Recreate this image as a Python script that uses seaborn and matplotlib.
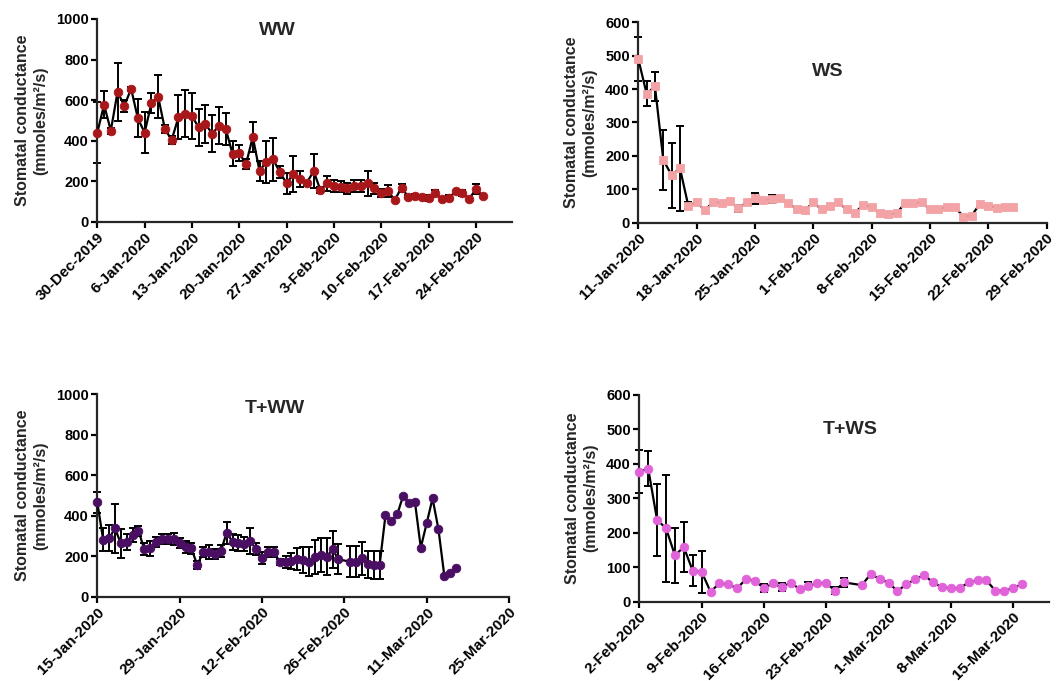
import pandas as pd
import matplotlib
matplotlib.use("Agg")
import matplotlib.pyplot as plt
import matplotlib.ticker as mticker
import matplotlib.transforms as mtransforms
import seaborn as sns

# ---------------- data (mean +/- SD of stomatal conductance) ----------------
# WW: daily readings from 30-Dec-2019
ww_start = "2019-12-30"
ww_mean = [439, 577, 449, 641, 571, 656, 510, 439, 584, 617,
           457, 403, 515, 533, 521, 465, 482, 434, 474, 457,
           336, 337, 285, 418, 250, 296, 308, 245, 189, 235,
           210, 192, 250, 156, 189, 178, 173, 164, 178, 178,
           189, 164, 143, 151, 107, 168, 123, 127, 123, 118,
           143, 110, 115, 151, 143, 112, 160, 128]
ww_err = [150, 66, 15, 143, 30, 10, 94, 100, 50, 107,
          20, 20, 108, 115, 112, 92, 95, 91, 93, 79,
          60, 40, 25, 75, 50, 104, 105, 30, 53, 89,
          40, 10, 84, 15, 38, 30, 28, 25, 30, 30,
          61, 25, 20, 30, 0, 20, 8, 10, 0, 15,
          15, 0, 15, 0, 15, 0, 25, 0]

# WS: daily readings from 11-Jan-2020
ws_start = "2020-01-11"
ws_mean = [490, 386, 408, 188, 142, 163, 51, 61, 38, 62,
           60, 65, 43, 61, 73, 69, 70, 74, 60, 40,
           37, 61, 40, 50, 61, 40, 30, 53, 48, 28,
           26, 28, 58, 58, 61, 40, 40, 48, 48, 18,
           21, 56, 51, 45, 48, 48]
ws_err = [65, 37, 43, 90, 98, 128, 10, 0, 0, 0,
          0, 0, 10, 0, 16, 0, 12, 0, 0, 0,
          0, 0, 0, 0, 0, 0, 0, 0, 0, 0,
          0, 0, 0, 0, 0, 0, 0, 0, 0, 0,
          0, 0, 0, 0, 0, 0]

# T+WW: daily readings from 15-Jan-2020 (no reading on day 42)
tww_start = "2020-01-15"
tww_missing = [42]
tww_mean = [465, 281, 288, 337, 263, 271, 304, 324, 234, 238,
            271, 285, 285, 285, 263, 247, 238, 156, 219, 222,
            209, 225, 316, 271, 263, 258, 275, 235, 192, 222,
            222, 173, 173, 178, 186, 181, 173, 197, 206, 197,
            234, 184, 173, 173, 189, 160, 156, 156, 403, 373,
            406, 498, 464, 469, 242, 362, 485, 334, 104, 118,
            143]
tww_err = [50, 56, 65, 120, 70, 40, 35, 25, 30, 35,
           25, 25, 25, 30, 25, 30, 25, 20, 25, 35,
           25, 30, 54, 40, 40, 35, 62, 30, 30, 25,
           25, 15, 30, 40, 55, 66, 70, 84, 84, 92,
           91, 74, 77, 77, 80, 67, 69, 71, 0, 0,
           0, 0, 0, 0, 0, 0, 0, 0, 0, 0,
           0]

# T+WS: daily readings from 2-Feb-2020 (no reading on day 24)
tws_start = "2020-02-02"
tws_missing = [24]
tws_mean = [377, 386, 237, 213, 135, 158, 90, 87, 29, 53,
            50, 39, 66, 61, 39, 53, 42, 55, 37, 46,
            53, 54, 32, 56, 48, 80, 66, 55, 31, 50,
            65, 77, 56, 42, 39, 39, 56, 62, 62, 32,
            32, 39, 51]
tws_err = [63, 51, 104, 155, 80, 72, 45, 61, 0, 0,
           0, 0, 0, 0, 12, 0, 12, 0, 0, 10,
           0, 0, 10, 12, 0, 0, 0, 0, 0, 0,
           0, 0, 0, 0, 0, 0, 0, 0, 0, 0,
           0, 0, 0]


def daily_dates(start, n, missing=()):
    days = [d for d in range(n + len(missing)) if d not in missing]
    return pd.Timestamp(start) + pd.to_timedelta(days, unit="D")


panels = [
    dict(name="WW", dates=daily_dates(ww_start, len(ww_mean)), mean=ww_mean, err=ww_err,
         color="#a8171a", marker="o", ms=6.2, ymax=1000, ystep=200,
         tick_start=ww_start, tick_step=7, n_ticks=9, span=61.3,
         box=(97.3, 19.0, 511.7, 221.7), title_xy=(0.435, 0.945)),
    dict(name="WS", dates=daily_dates(ws_start, len(ws_mean)), mean=ws_mean, err=ws_err,
         color="#f3a3a5", marker="s", ms=6.0, ymax=600, ystep=100,
         tick_start=ws_start, tick_step=7, n_ticks=8, span=49.0,
         box=(638.3, 22.3, 1046.5, 222.7), title_xy=(0.465, 0.752)),
    dict(name="T+WW", dates=daily_dates(tww_start, len(tww_mean), tww_missing), mean=tww_mean,
         err=tww_err, color="#4a0f62", marker="o", ms=6.2, ymax=1000, ystep=200,
         tick_start=tww_start, tick_step=14, n_ticks=6, span=70.0,
         box=(97.3, 394.0, 509.0, 596.7), title_xy=(0.432, 0.926)),
    dict(name="T+WS", dates=daily_dates(tws_start, len(tws_mean), tws_missing), mean=tws_mean,
         err=tws_err, color="#e163d9", marker="o", ms=6.2, ymax=600, ystep=100,
         tick_start=tws_start, tick_step=7, n_ticks=7, span=46.0,
         box=(639.3, 394.8, 1048.7, 601.7), title_xy=(0.515, 0.83)),
]

sns.set_style("ticks")
plt.rcParams["font.family"] = ["Liberation Sans", "DejaVu Sans"]
plt.rcParams["font.weight"] = "bold"
plt.rcParams["axes.linewidth"] = 1.6

W, H = 1056, 681
fig = plt.figure(figsize=(W / 100, H / 100), dpi=100)

# rotated date labels end just past their tick
label_shift = mtransforms.ScaledTranslation(-5 / 100, 0, fig.dpi_scale_trans)


def fmt_date(d):
    return f"{d.day}-{d.strftime('%b-%Y')}"


for p in panels:
    l, t, r, b = p["box"]
    ax = fig.add_axes([l / W, 1 - b / H, (r - l) / W, (b - t) / H])
    df = pd.DataFrame({"date": p["dates"], "value": p["mean"], "sd": p["err"]})

    # error bars (only where a spread was recorded)
    bars = df[df["sd"] > 0]
    ax.errorbar(bars["date"], bars["value"], yerr=bars["sd"], fmt="none",
                ecolor="black", elinewidth=1.4, capsize=3.2, capthick=1.4,
                zorder=2, clip_on=False)

    sns.lineplot(data=df, x="date", y="value", ax=ax, color="black", linewidth=1.6,
                 marker=p["marker"], markersize=p["ms"], markerfacecolor=p["color"],
                 markeredgecolor=p["color"], markeredgewidth=0.6, zorder=3,
                 clip_on=False)

    start = pd.Timestamp(p["tick_start"])
    ticks = [start + pd.Timedelta(days=p["tick_step"] * i) for i in range(p["n_ticks"])]
    ax.set_xlim(start, start + pd.Timedelta(days=p["span"]))
    ax.xaxis.set_major_locator(mticker.FixedLocator(matplotlib.dates.date2num(ticks)))
    ax.set_xticklabels([fmt_date(d) for d in ticks], rotation=45, ha="right",
                       rotation_mode="anchor", fontsize=11, fontweight="bold")
    for lab in ax.get_xticklabels():
        lab.set_transform(lab.get_transform() + label_shift)
    ax.set_ylim(0, p["ymax"])
    ax.yaxis.set_major_locator(mticker.MultipleLocator(p["ystep"]))
    ax.tick_params(axis="both", direction="out", length=4, width=1.6, pad=2,
                   colors="black")
    ax.tick_params(axis="y", labelsize=10.5)
    for lab in ax.get_yticklabels():
        lab.set_fontweight("bold")

    ax.set_xlabel("")
    ax.set_ylabel("Stomatal conductance\n(mmoles/m²/s)", fontsize=11.5,
                  fontweight="bold", labelpad=6, linespacing=1.25)
    sns.despine(ax=ax)
    ax.spines["left"].set_linewidth(1.6)
    ax.spines["bottom"].set_linewidth(1.6)

    ax.text(*p["title_xy"], p["name"], transform=ax.transAxes, ha="center",
            va="center", fontsize=14, fontweight="bold")

fig.savefig("out.png", dpi=100, facecolor="white")
